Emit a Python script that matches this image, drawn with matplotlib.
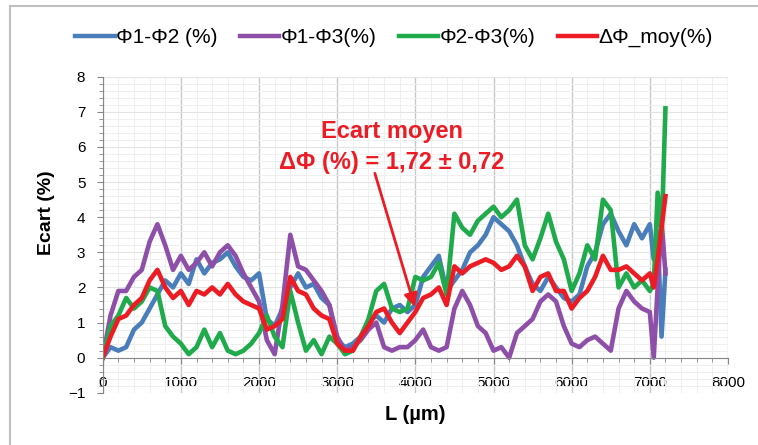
import numpy as np
import matplotlib
matplotlib.use('Agg')
import matplotlib.pyplot as plt
from matplotlib.ticker import MultipleLocator
from matplotlib.lines import Line2D

# positions along the sample (um)
L = [0, 100, 200, 300, 400, 500, 600, 700, 800, 900,
     1000, 1100, 1200, 1300, 1400, 1500, 1600, 1700, 1800, 1900,
     2000, 2100, 2200, 2300, 2400, 2500, 2600, 2700, 2800, 2900,
     3000, 3100, 3200, 3300, 3400, 3500, 3600, 3700, 3800, 3900,
     4000, 4100, 4200, 4300, 4400, 4500, 4600, 4700, 4800, 4900,
     5000, 5100, 5200, 5300, 5400, 5500, 5600, 5700, 5800, 5900,
     6000, 6100, 6200, 6300, 6400, 6500, 6600, 6700, 6800, 6900,
     7000, 7050, 7100, 7150, 7200]

phi12 = [0, 0.3, 0.2, 0.3, 0.8, 1.0, 1.4, 1.8, 2.2, 2.0,
         2.4, 2.1, 2.8, 2.4, 2.7, 2.8, 3.0, 2.6, 2.3, 2.2,
         2.4, 1.1, 0.9, 1.4, 2.0, 2.4, 2.0, 2.1, 1.7, 1.5,
         0.5, 0.3, 0.4, 0.6, 1.0, 1.2, 1.0, 1.4, 1.5, 1.3,
         1.5, 2.3, 2.6, 2.9, 1.9, 2.2, 2.5, 3.0, 3.2, 3.5,
         4.0, 3.8, 3.6, 3.2, 2.6, 2.1, 1.9, 2.3, 2.0, 1.7,
         1.6, 1.8, 2.6, 3.0, 3.8, 4.1, 3.6, 3.2, 3.8, 3.4,
         3.8, 2.8, 3.6, 0.6, 2.5]

phi13 = [0, 1.2, 1.9, 1.9, 2.3, 2.5, 3.3, 3.8, 3.2, 2.5,
         2.9, 2.5, 2.7, 3.0, 2.6, 3.0, 3.2, 2.9, 2.4, 2.0,
         1.6, 0.5, 0.1, 1.5, 3.5, 2.6, 2.5, 2.2, 1.9, 1.5,
         0.6, 0.2, 0.3, 0.5, 0.8, 1.0, 0.3, 0.2, 0.3, 0.3,
         0.5, 0.8, 0.3, 0.2, 0.3, 1.4, 1.9, 1.5, 0.9, 0.7,
         0.2, 0.3, 0.0, 0.7, 0.9, 1.1, 1.6, 1.8, 1.6, 0.9,
         0.4, 0.3, 0.5, 0.6, 0.4, 0.2, 1.4, 1.9, 1.6, 1.4,
         1.3, 0.0, 2.0, 3.9, 2.4]

phi23 = [0, 0.9, 1.2, 1.7, 1.4, 1.6, 2.0, 1.9, 0.9, 0.6,
         0.4, 0.1, 0.3, 0.8, 0.3, 0.7, 0.2, 0.1, 0.2, 0.4,
         0.7, 1.2, 0.6, 0.3, 1.9, 1.0, 0.2, 0.5, 0.1, 0.6,
         0.4, 0.1, 0.2, 0.6, 1.1, 1.9, 2.1, 1.4, 1.3, 1.4,
         2.3, 2.2, 2.3, 2.7, 1.8, 4.1, 3.7, 3.5, 3.9, 4.1,
         4.3, 4.0, 4.2, 4.5, 3.2, 2.8, 3.4, 4.1, 3.3, 2.8,
         1.9, 2.4, 3.2, 2.8, 4.5, 4.2, 2.0, 2.4, 2.0, 2.2,
         1.9, 2.1, 4.7, 3.5, 7.1]

dphi_moy = [0, 0.6, 1.1, 1.2, 1.5, 1.7, 2.2, 2.5, 2.0, 1.7,
            1.9, 1.5, 1.9, 1.8, 2.0, 1.8, 2.1, 1.8, 1.6, 1.5,
            1.4, 0.8, 0.9, 1.1, 2.3, 1.9, 1.8, 1.4, 1.2, 1.1,
            0.4, 0.2, 0.2, 0.6, 0.9, 1.3, 1.4, 1.0, 0.7, 1.0,
            1.3, 1.7, 1.8, 2.0, 1.5, 2.6, 2.4, 2.6, 2.7, 2.8,
            2.7, 2.5, 2.6, 2.9, 2.6, 1.9, 2.3, 2.4, 1.9, 1.9,
            1.4, 1.7, 1.9, 2.3, 2.9, 2.5, 2.5, 2.6, 2.4, 2.2,
            2.4, 2.0, 2.8, 3.7, 4.6]

labels = ['Φ1-Φ2 (%)', 'Φ1-Φ3(%)', 'Φ2-Φ3(%)', 'ΔΦ_moy(%)']
colors = ['#4a7ebb', '#8e4fa8', '#1fab4b', '#ed1c24']

plt.rcParams['font.family'] = ['Liberation Sans', 'DejaVu Sans']
narrow = ['Liberation Sans Narrow', 'Liberation Sans', 'DejaVu Sans']

fig = plt.figure(figsize=(7.58, 4.45), dpi=100)
ax = fig.add_axes([0.1355, 0.1173, 0.8249, 0.7103])

for s, lab, c in zip([phi12, phi13, phi23, dphi_moy], labels, colors):
    ax.plot(L, s, color=c, lw=3.3, label=lab, solid_joinstyle='round')

ax.set_xlim(0, 8000)
ax.set_ylim(-1, 8)
ax.xaxis.set_major_locator(MultipleLocator(1000))
ax.xaxis.set_minor_locator(MultipleLocator(200))
ax.yaxis.set_major_locator(MultipleLocator(1))
ax.yaxis.set_minor_locator(MultipleLocator(0.2))
ax.grid(which='major', axis='x', color='#c8c8c8', lw=1.0)
ax.grid(which='major', axis='y', color='#e3e3e3', lw=0.8)
ax.grid(which='minor', color='#efefef', lw=0.7)
ax.set_axisbelow(True)

ax.spines['bottom'].set_position(('data', 0))
ax.spines['top'].set_visible(False)
ax.spines['right'].set_visible(False)
ax.spines['bottom'].set_color('#868686')
ax.spines['left'].set_color('#868686')
ax.tick_params(which='both', direction='out', color='#868686', labelsize=11)
ax.tick_params(which='major', length=4.5)
ax.tick_params(which='minor', length=3)
ax.tick_params(axis='x', pad=9)
ax.tick_params(axis='y', pad=8)
for t in ax.get_xticklabels() + ax.get_yticklabels():
    t.set_family(narrow)

ax.set_xlabel('L (µm)', fontsize=14.5, fontweight='bold')
ax.xaxis.set_label_coords(0.5, -0.04)
ax.set_ylabel('Ecart (%)', fontsize=14, fontweight='bold')
ax.yaxis.set_label_coords(-0.076, 0.57)

ax.text(3700, 6.44, 'Ecart moyen', color='#ed1c24', fontsize=17,
        fontweight='bold', ha='center', va='center')
ax.text(3700, 5.56, 'ΔΦ (%) = 1,72 ± 0,72', color='#ed1c24', fontsize=17,
        fontweight='bold', ha='center', va='center')
ax.annotate('', xy=(3994, 1.44), xytext=(3482, 5.25),
            arrowprops=dict(arrowstyle='-|>', color='#ed1c24', lw=2.0,
                            mutation_scale=20, shrinkA=0, shrinkB=0))

handles = [Line2D([], [], color=c, lw=3.2) for c in colors]
fig.legend(handles, labels, loc='center', ncol=4, bbox_to_anchor=(0.52, 0.915),
           frameon=False, fontsize=15, handlelength=1.9, handletextpad=0.08,
           columnspacing=1.05)

# outer chart frame
fig.add_artist(Line2D([10 / 758, 10 / 758], [0, 1 - 6 / 445],
                      transform=fig.transFigure, color='#bfbfbf', lw=1.5))
fig.add_artist(Line2D([10 / 758, 1], [1 - 6 / 445, 1 - 6 / 445],
                      transform=fig.transFigure, color='#bfbfbf', lw=1.5))

fig.savefig('out.png', dpi=100)
